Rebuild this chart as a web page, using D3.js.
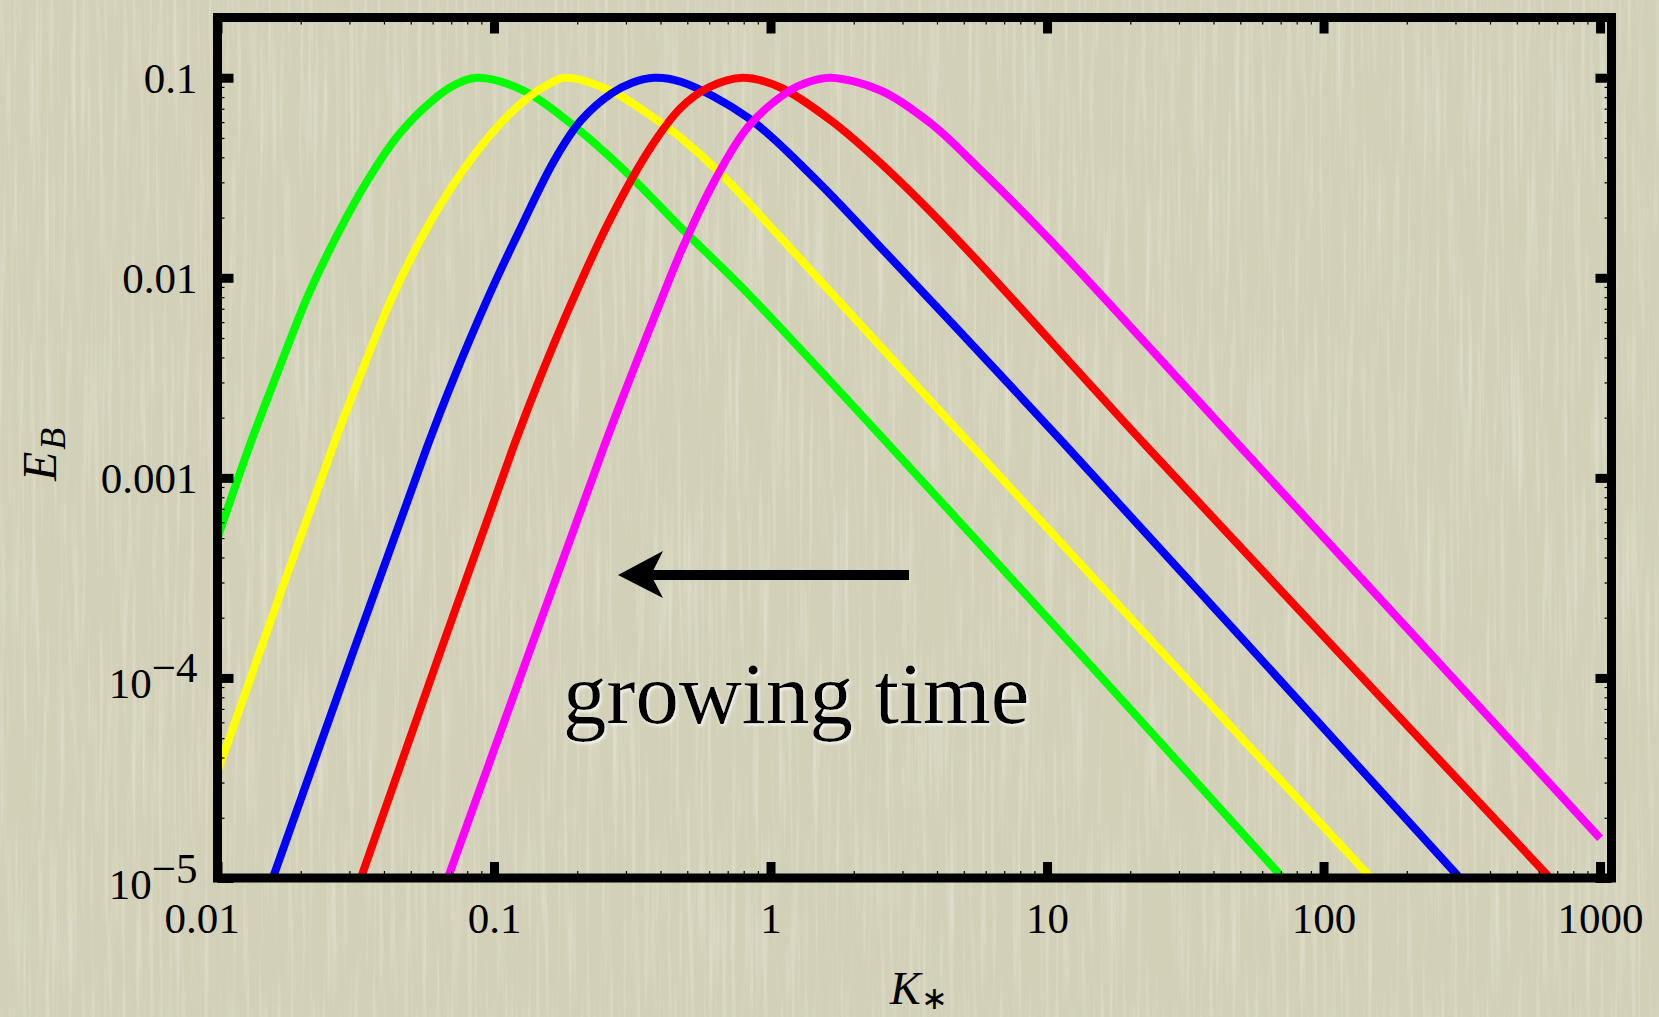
<!DOCTYPE html>
<html>
<head>
<meta charset="utf-8">
<script src="https://cdn.jsdelivr.net/npm/d3@7"></script>
<style>
  html, body { margin: 0; padding: 0; background: #d1cfb5; }
  svg { display: block; }
</style>
</head>
<body>
<div id="chart"></div>
<script>
// spectra E_B(K*), one curve per time step
const kGreen = [0.01, 0.01297, 0.01652, 0.02123, 0.02723, 0.0350, 0.0449, 0.0592, 0.0724, 0.0875, 0.128, 0.190, 0.305, 0.474, 0.830, 11.5, 70.3];
const eGreen = [5.0e-4, 1.41e-3, 3.39e-3, 8.13e-3, 0.0166, 0.0309, 0.0513, 0.0759, 0.0923, 0.100, 0.0861, 0.0589, 0.0331, 0.0178, 8.32e-3, 1.62e-4, 1.02e-5];

const kYellow = [0.01, 0.02636, 0.0330, 0.0424, 0.0557, 0.0740, 0.0998, 0.1324, 0.1585, 0.1816, 0.264, 0.378, 0.474, 0.662, 1.091, 10.09, 146.6];
const eYellow = [3.39e-5, 1.48e-3, 3.31e-3, 7.76e-3, 0.0166, 0.0316, 0.0543, 0.0794, 0.0933, 0.100, 0.0861, 0.0631, 0.0501, 0.0331, 0.0158, 5.56e-4, 1.02e-5];

const kBlue = [0.01585, 0.0575, 0.0716, 0.0951, 0.125, 0.165, 0.206, 0.265, 0.316, 0.379, 0.474, 0.830, 1.436, 2.512, 11.53, 306.9];
const eBlue = [1.0e-5, 1.45e-3, 3.16e-3, 7.94e-3, 0.0178, 0.0385, 0.061, 0.0832, 0.0944, 0.100, 0.0955, 0.0631, 0.0316, 0.0141, 1.48e-3, 1.02e-5];

const kRed = [0.0330, 0.118, 0.1517, 0.2014, 0.265, 0.372, 0.474, 0.594, 0.794, 1.091, 1.656, 2.512, 4.385, 23.2, 650];
const eRed = [1.0e-5, 1.45e-3, 3.55e-3, 8.91e-3, 0.020, 0.0457, 0.0708, 0.0891, 0.100, 0.0891, 0.0610, 0.0372, 0.0174, 1.41e-3, 1.02e-5];

const kMagenta = [0.0681, 0.2506, 0.305, 0.392, 0.474, 0.625, 0.830, 1.156, 1.380, 1.656, 2.512, 3.811, 5.781, 10.09, 50.5, 1000];
const eMagenta = [1.0e-5, 1.45e-3, 2.95e-3, 7.08e-3, 0.0135, 0.0302, 0.0569, 0.0851, 0.0955, 0.100, 0.0861, 0.0589, 0.0343, 0.0158, 1.41e-3, 1.58e-5];

const seriesK = [kGreen, kYellow, kBlue, kRed, kMagenta];
const seriesE = [eGreen, eYellow, eBlue, eRed, eMagenta];
const seriesColors = ['#00ff00', '#ffff00', '#0000ff', '#ff0000', '#ff00ff'];

const xTickValues = [0.01, 0.1, 1, 10, 100, 1000];
const xTickLabels = ['0.01', '0.1', '1', '10', '100', '1000'];
const yTickValues = [1e-5, 1e-4, 0.001, 0.01, 0.1];
const yTickLabels = [['10', '\u22125'], ['10', '\u22124'], ['0.001'], ['0.01'], ['0.1']];

const W = 1659, H = 1017;
const plotLeft = 217.5, plotRight = 1611.5, plotTop = 17.5, plotBottom = 878;
const serif = '"Liberation Serif", "Times New Roman", serif';

const svg = d3.select('#chart').append('svg')
    .attr('width', W)
    .attr('height', H);

const defs = svg.append('defs');

// paper texture: vertical streaks
const light = defs.append('filter').attr('id', 'streakLight')
    .attr('x', 0).attr('y', 0).attr('width', '100%').attr('height', '100%');
light.append('feTurbulence')
    .attr('type', 'fractalNoise')
    .attr('baseFrequency', '0.22 0.006')
    .attr('numOctaves', 3)
    .attr('seed', 7);
light.append('feColorMatrix')
    .attr('type', 'matrix')
    .attr('values', '0 0 0 0 0.95  0 0 0 0 0.94  0 0 0 0 0.87  2.4 0 0 0 -1.15');

const dark = defs.append('filter').attr('id', 'streakDark')
    .attr('x', 0).attr('y', 0).attr('width', '100%').attr('height', '100%');
dark.append('feTurbulence')
    .attr('type', 'fractalNoise')
    .attr('baseFrequency', '0.3 0.01')
    .attr('numOctaves', 2)
    .attr('seed', 21);
dark.append('feColorMatrix')
    .attr('type', 'matrix')
    .attr('values', '0 0 0 0 0.66  0 0 0 0 0.65  0 0 0 0 0.5  -2.4 0 0 0 1.05');

const glow = defs.append('filter').attr('id', 'glow')
    .attr('x', '-5%').attr('y', '-20%').attr('width', '110%').attr('height', '140%');
glow.append('feDropShadow')
    .attr('dx', 1.5).attr('dy', 2)
    .attr('stdDeviation', 1.5)
    .attr('flood-color', '#ffffff')
    .attr('flood-opacity', 0.85);

defs.append('clipPath').attr('id', 'plotClip')
    .append('rect')
    .attr('x', plotLeft).attr('y', plotTop)
    .attr('width', plotRight - plotLeft).attr('height', plotBottom - plotTop);

svg.append('rect').attr('width', W).attr('height', H).attr('fill', '#d2d0b7');
svg.append('rect').attr('width', W).attr('height', H).attr('filter', 'url(#streakLight)').attr('opacity', 0.35);
svg.append('rect').attr('width', W).attr('height', H).attr('filter', 'url(#streakDark)').attr('opacity', 0.22);

const x = d3.scaleLog().domain([0.01, 1100]).range([plotLeft, plotRight]);
const y = d3.scaleLog().domain([1e-5, 0.2]).range([plotBottom, plotTop]);

// centripetal Catmull-Rom keeps the peaks round and passes through the read points
const line = d3.line()
    .x(d => x(d.k))
    .y(d => y(d.e))
    .curve(d3.curveCatmullRom.alpha(0.5));

const curves = svg.append('g').attr('clip-path', 'url(#plotClip)');
seriesK.forEach((ks, i) => {
    const pts = ks.map((k, j) => ({ k: k, e: seriesE[i][j] }));
    curves.append('path')
        .datum(pts)
        .attr('fill', 'none')
        .attr('stroke', seriesColors[i])
        .attr('stroke-width', 8)
        .attr('d', line);
});

// arrow + annotation
svg.append('line')
    .attr('x1', 909).attr('y1', 575)
    .attr('x2', 650).attr('y2', 575)
    .attr('stroke', '#000')
    .attr('stroke-width', 10);
svg.append('path')
    .attr('d', 'M618,575 L663,551 L651,575 L663,598 Z')
    .attr('fill', '#000');

svg.append('text')
    .attr('x', 563).attr('y', 723)
    .attr('font-family', serif)
    .attr('font-size', 87)
    .attr('fill', '#000')
    .attr('filter', 'url(#glow)')
    .text('growing time');

// ticks
const isMajor = d => Math.abs(Math.log10(d) - Math.round(Math.log10(d))) < 1e-6;
const minorX = x.ticks().filter(d => !isMajor(d));
const minorY = y.ticks().filter(d => !isMajor(d));

function styleAxis(g, width) {
    g.select('.domain').remove();
    g.selectAll('.tick line').attr('stroke', '#000').attr('stroke-width', width);
}

// bottom
const xAxisBottom = svg.append('g')
    .attr('transform', `translate(0,${plotBottom})`)
    .call(d3.axisBottom(x).tickValues(xTickValues).tickSize(-16).tickFormat((d, i) => xTickLabels[i]));
styleAxis(xAxisBottom, 9);
xAxisBottom.selectAll('.tick text')
    .attr('y', 55).attr('dy', 0)
    .attr('dx', (d, i) => i === 0 ? -16 : 0)
    .attr('font-family', serif)
    .attr('font-size', 43)
    .attr('fill', '#000');

svg.append('g')
    .attr('transform', `translate(0,${plotBottom})`)
    .call(d3.axisBottom(x).tickValues(minorX).tickSize(-7).tickFormat(''))
    .call(g => styleAxis(g, 1.2));

// top
svg.append('g')
    .attr('transform', `translate(0,${plotTop})`)
    .call(d3.axisTop(x).tickValues(xTickValues).tickSize(-16).tickFormat(''))
    .call(g => styleAxis(g, 9));
svg.append('g')
    .attr('transform', `translate(0,${plotTop})`)
    .call(d3.axisTop(x).tickValues(minorX).tickSize(-7).tickFormat(''))
    .call(g => styleAxis(g, 1.2));

// left
const yAxisLeft = svg.append('g')
    .attr('transform', `translate(${plotLeft},0)`)
    .call(d3.axisLeft(y).tickValues(yTickValues).tickSize(-16).tickFormat(''));
styleAxis(yAxisLeft, 9);
yAxisLeft.selectAll('.tick text').each(function (d, i) {
    const t = d3.select(this)
        .attr('x', -20)
        .attr('dy', 0)
        .attr('font-family', serif)
        .attr('font-size', 43)
        .attr('fill', '#000')
        .attr('text-anchor', 'end');
    const lab = yTickLabels[i];
    if (lab.length === 1) {
        t.attr('y', 15).text(lab[0]);
    } else {
        t.attr('y', 20);
        t.append('tspan').text(lab[0]);
        t.append('tspan').attr('dy', -16).text(lab[1]);
    }
});

svg.append('g')
    .attr('transform', `translate(${plotLeft},0)`)
    .call(d3.axisLeft(y).tickValues(minorY).tickSize(-7).tickFormat(''))
    .call(g => styleAxis(g, 1.2));

// right
svg.append('g')
    .attr('transform', `translate(${plotRight},0)`)
    .call(d3.axisRight(y).tickValues(yTickValues).tickSize(-16).tickFormat(''))
    .call(g => styleAxis(g, 9));
svg.append('g')
    .attr('transform', `translate(${plotRight},0)`)
    .call(d3.axisRight(y).tickValues(minorY).tickSize(-7).tickFormat(''))
    .call(g => styleAxis(g, 1.2));

// frame
svg.append('rect')
    .attr('x', plotLeft).attr('y', plotTop)
    .attr('width', plotRight - plotLeft).attr('height', plotBottom - plotTop)
    .attr('fill', 'none')
    .attr('stroke', '#000')
    .attr('stroke-width', 9);

// axis titles
const yTitle = svg.append('text')
    .attr('transform', 'translate(56,481) rotate(-90)')
    .attr('font-family', serif)
    .attr('font-style', 'italic')
    .attr('font-size', 48)
    .attr('fill', '#000');
yTitle.append('tspan').text('E');
yTitle.append('tspan').attr('font-size', 36).attr('dy', 9).attr('dx', 2).text('B');

const xTitle = svg.append('text')
    .attr('x', 890).attr('y', 1004)
    .attr('font-family', serif)
    .attr('font-style', 'italic')
    .attr('font-size', 46)
    .attr('fill', '#000');
xTitle.append('tspan').text('K');
xTitle.append('tspan').attr('font-size', 32).attr('dy', 5).attr('font-style', 'normal').text('\u2217');
</script>
</body>
</html>
